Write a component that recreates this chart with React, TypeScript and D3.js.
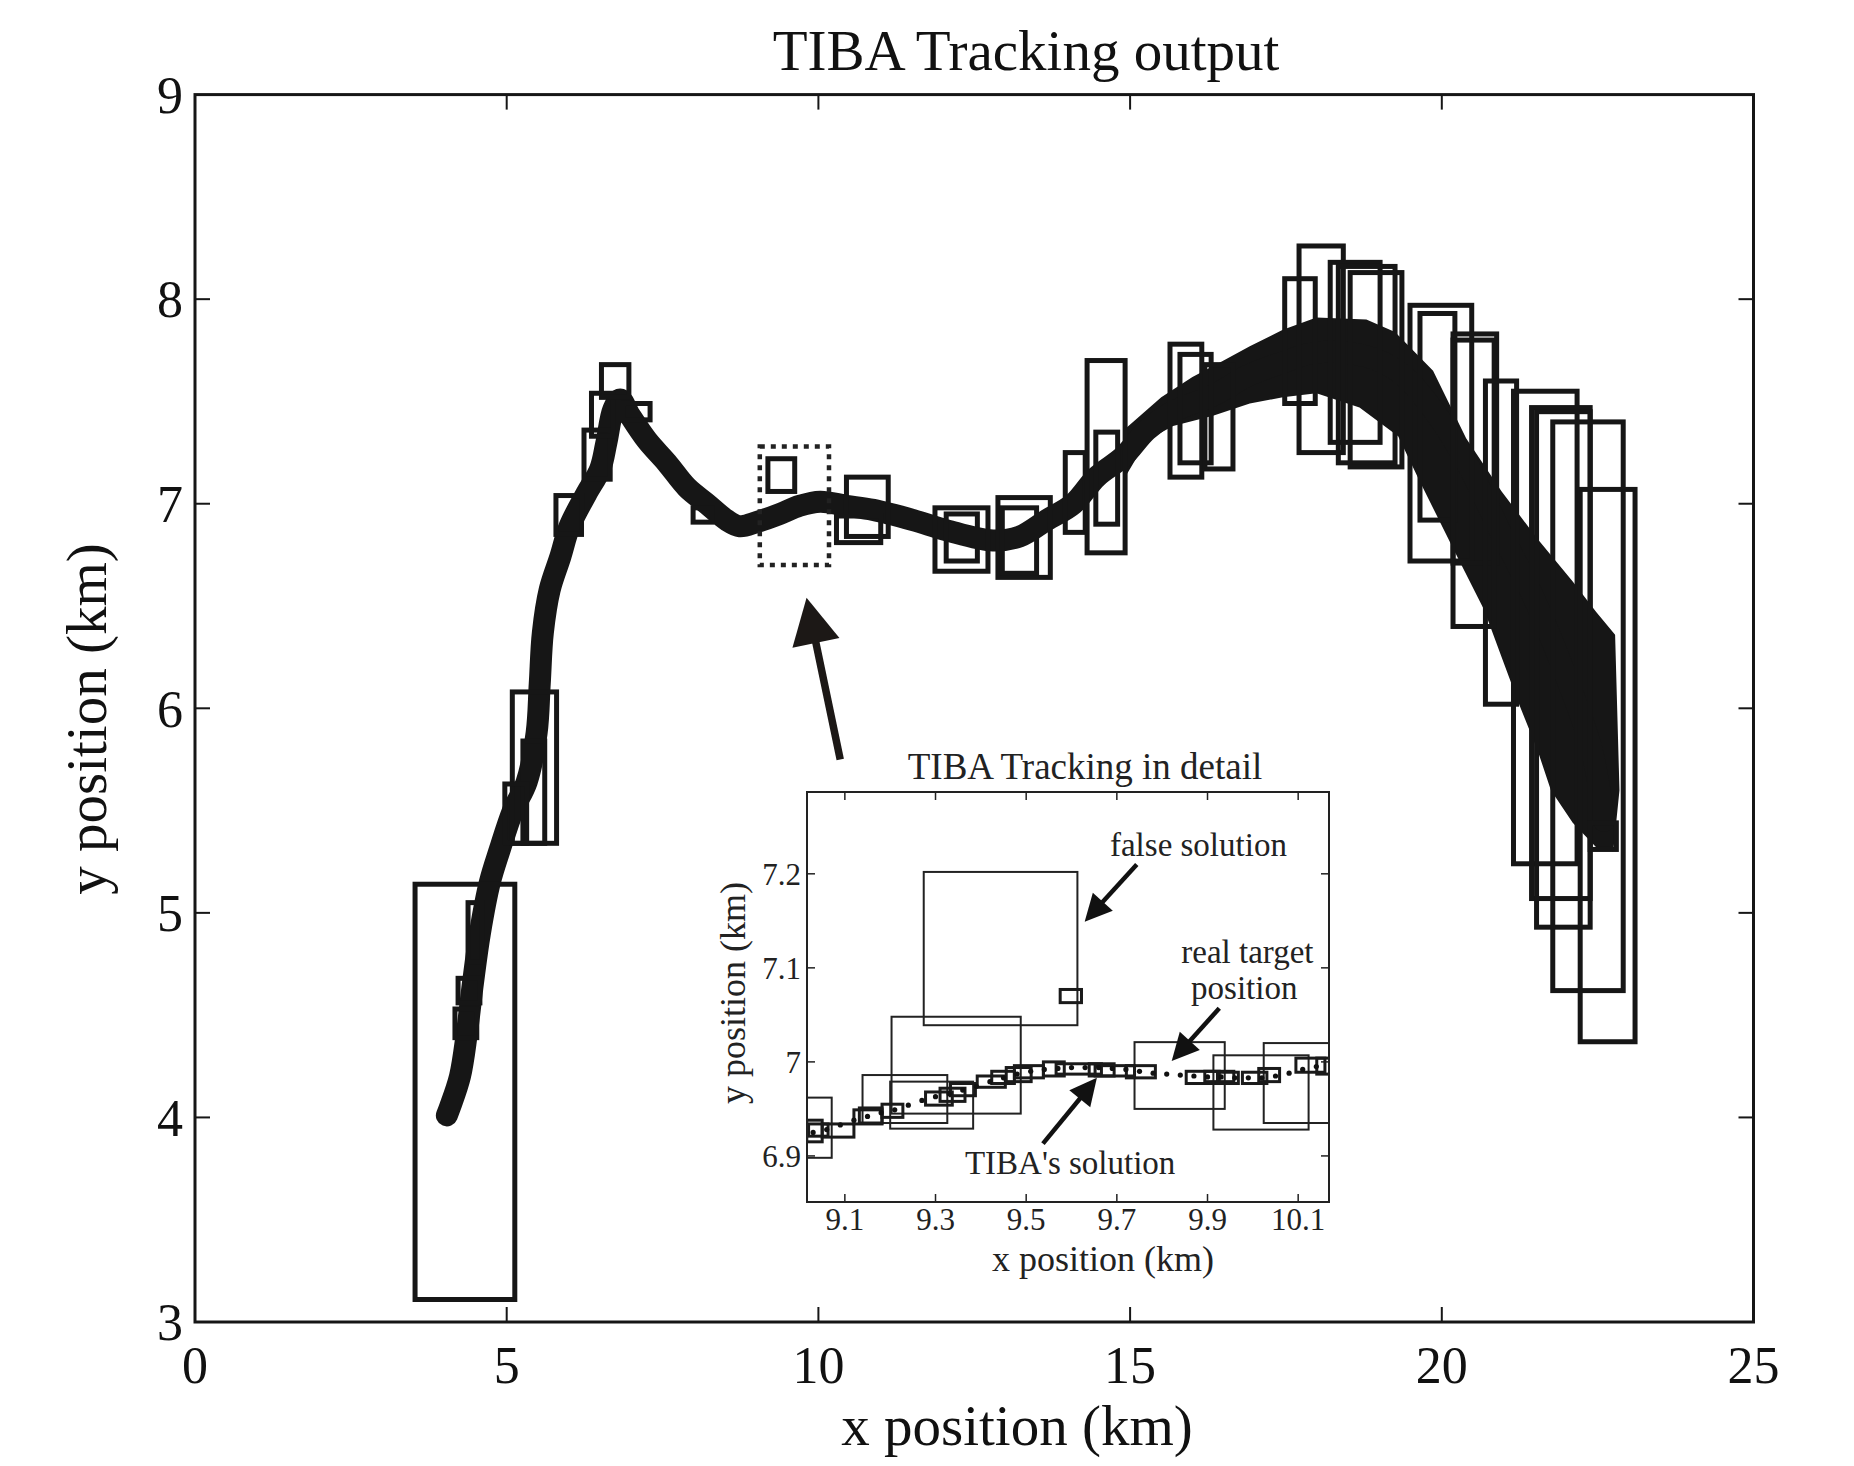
import React, { useRef, useEffect } from "react";
import * as d3 from "d3";

const W = 1854;
const H = 1466;
const FONT = "'Liberation Serif', 'Times New Roman', serif";

// ---- main plot ----
const xTicks = [0, 5, 10, 15, 20, 25];
const yTicks = [3, 4, 5, 6, 7, 8, 9];

// TIBA track, centre line [x km, y km]
const track: [number, number][] = [
  [4.04, 4.01], [4.09, 4.05], [4.25, 4.2], [4.36, 4.41], [4.46, 4.66], [4.57, 4.9],
  [4.73, 5.15], [4.89, 5.31], [5.1, 5.5], [5.32, 5.64], [5.48, 5.88], [5.53, 6.12],
  [5.58, 6.37], [5.69, 6.58], [5.86, 6.74], [6.01, 6.89], [6.28, 7.05], [6.5, 7.17],
  [6.6, 7.3], [6.71, 7.46], [6.82, 7.51], [6.98, 7.43], [7.25, 7.31], [7.57, 7.2],
  [7.89, 7.08], [8.21, 7.0], [8.53, 6.92], [8.74, 6.89], [9.01, 6.91], [9.38, 6.95],
  [9.7, 6.99], [10.03, 7.01], [10.45, 6.99], [10.88, 6.97], [11.52, 6.92], [12.06, 6.87],
  [12.8, 6.82], [13.23, 6.84], [13.66, 6.92], [14.09, 7.0], [14.46, 7.13], [14.89, 7.23],
  [15.27, 7.36], [15.69, 7.45], [16.33, 7.53], [16.92, 7.63], [17.45, 7.69], [17.99, 7.74],
  [18.79, 7.72], [19.33, 7.64], [19.86, 7.46], [20.4, 7.2], [20.93, 6.87], [21.46, 6.55],
  [22.0, 6.15], [22.4, 5.8], [22.6, 5.45],
];

// where the track spreads into a wide dark band
const bandUpper: [number, number][] = [
  [14.9, 7.36], [15.5, 7.52], [16.0, 7.62], [16.5, 7.7], [16.92, 7.77], [17.45, 7.85],
  [17.99, 7.91], [18.79, 7.9], [19.25, 7.84], [19.86, 7.65], [20.39, 7.32], [20.96, 7.06],
  [21.53, 6.83], [22.1, 6.62], [22.48, 6.47], [22.78, 6.36], [22.85, 5.6], [22.75, 5.3],
];
const bandLower: [number, number][] = [
  [14.9, 7.12], [15.27, 7.31], [15.69, 7.38], [16.33, 7.43], [16.92, 7.49], [17.45, 7.52],
  [17.99, 7.54], [18.68, 7.47], [19.3, 7.33], [19.63, 7.12], [20.2, 6.77], [20.68, 6.48],
  [20.96, 6.25], [21.24, 6.02], [21.53, 5.8], [21.75, 5.6], [22.1, 5.44], [22.48, 5.32],
];

// solution boxes [x0, x1, y0, y1]
const mainBoxes: number[][] = [
  [3.53, 5.13, 3.11, 5.14], [5.09, 5.8, 5.34, 6.08], [5.26, 5.61, 5.34, 5.84],
  [4.97, 5.32, 5.34, 5.63], [4.38, 4.6, 4.76, 5.05], [4.22, 4.57, 4.56, 4.68],
  [4.17, 4.52, 4.39, 4.53], [5.79, 6.2, 6.85, 7.04], [6.24, 6.66, 7.12, 7.36],
  [6.36, 6.71, 7.33, 7.54], [6.52, 6.96, 7.52, 7.68], [6.87, 7.3, 7.41, 7.49],
  [7.99, 8.29, 6.91, 6.98], [9.19, 9.62, 7.06, 7.22], [10.45, 11.12, 6.84, 7.13],
  [10.29, 11.0, 6.81, 6.94], [11.87, 12.72, 6.67, 6.98], [12.05, 12.55, 6.72, 6.95],
  [12.88, 13.72, 6.64, 7.03], [12.95, 13.5, 6.66, 6.98], [13.96, 14.28, 6.86, 7.25],
  [14.31, 14.92, 6.76, 7.7], [14.45, 14.8, 6.9, 7.35], [15.64, 16.15, 7.13, 7.78],
  [15.8, 16.3, 7.2, 7.73], [16.2, 16.65, 7.17, 7.68], [17.71, 18.42, 7.25, 8.26],
  [17.48, 17.97, 7.49, 8.1], [18.21, 19.01, 7.3, 8.18], [18.34, 19.25, 7.2, 8.16],
  [18.53, 19.36, 7.18, 8.13], [19.49, 20.48, 6.72, 7.97], [19.65, 20.21, 6.92, 7.93],
  [20.18, 20.88, 6.71, 7.83], [20.18, 20.84, 6.4, 7.8], [20.7, 21.2, 6.02, 7.6],
  [21.15, 22.17, 5.24, 7.55], [21.44, 22.38, 5.07, 7.47], [21.52, 22.38, 4.93, 7.45],
  [21.78, 22.91, 4.62, 7.4], [22.22, 23.1, 4.37, 7.07], [22.38, 22.8, 5.31, 5.44],
];
const zoomBox = [9.06, 10.17, 6.7, 7.28];
const mainArrow = { from: [10.35, 5.75], to: [9.81, 6.54] };

// ---- inset ----
const insetXTicks = [9.1, 9.3, 9.5, 9.7, 9.9, 10.1];
const insetYTicks = [6.9, 7.0, 7.1, 7.2];
const insetYTickLabels = ["6.9", "7", "7.1", "7.2"];

const insetBigBoxes: number[][] = [
  [9.274, 9.613, 7.039, 7.202], [9.203, 9.488, 6.945, 7.048], [9.139, 9.326, 6.935, 6.986],
  [9.2, 9.383, 6.929, 6.979], [9.016, 9.071, 6.898, 6.962], [9.739, 9.938, 6.95, 7.021],
  [9.913, 10.123, 6.928, 7.007], [10.024, 10.2, 6.935, 7.02],
];
const insetSmallBoxes: number[][] = [
  [9.575, 9.622, 7.063, 7.077], [9.016, 9.05, 6.915, 6.938], [9.02, 9.063, 6.921, 6.934],
  [9.05, 9.12, 6.92, 6.934], [9.12, 9.182, 6.934, 6.949], [9.132, 9.182, 6.935, 6.951],
  [9.182, 9.228, 6.941, 6.955], [9.278, 9.337, 6.954, 6.968], [9.31, 9.365, 6.958, 6.972],
  [9.333, 9.388, 6.964, 6.977], [9.392, 9.454, 6.973, 6.985], [9.424, 9.474, 6.977, 6.99],
  [9.456, 9.511, 6.979, 6.994], [9.474, 9.538, 6.983, 6.996], [9.538, 9.584, 6.985, 7.0],
  [9.566, 9.666, 6.987, 6.998], [9.639, 9.694, 6.985, 6.998], [9.652, 9.739, 6.985, 6.996],
  [9.721, 9.785, 6.983, 6.996], [9.853, 9.926, 6.977, 6.99], [9.894, 9.958, 6.979, 6.99],
  [9.922, 9.968, 6.977, 6.989], [9.977, 10.031, 6.977, 6.989], [10.013, 10.059, 6.979, 6.993],
  [10.095, 10.159, 6.989, 7.004], [10.141, 10.2, 6.987, 7.004],
];

// real target positions
const targetX = [
  9.03, 9.06, 9.09, 9.12, 9.15, 9.18, 9.21, 9.24, 9.27, 9.3, 9.33, 9.36, 9.39, 9.42, 9.45,
  9.48, 9.51, 9.54, 9.57, 9.6, 9.63, 9.66, 9.69, 9.72, 9.75, 9.78, 9.81, 9.84, 9.87, 9.9,
  9.93, 9.96, 9.99, 10.02, 10.05, 10.08, 10.11, 10.14,
];
const targetY = [
  6.925, 6.928, 6.933, 6.938, 6.942, 6.946, 6.949, 6.954, 6.959, 6.963, 6.966, 6.97, 6.974,
  6.979, 6.983, 6.987, 6.99, 6.992, 6.993, 6.994, 6.994, 6.994, 6.993, 6.992, 6.99, 6.988,
  6.987, 6.986, 6.985, 6.984, 6.984, 6.983, 6.983, 6.983, 6.985, 6.988, 6.992, 6.995,
];

const insetArrows = [
  { from: [9.744, 7.21], to: [9.629, 7.149] },
  { from: [9.926, 7.057], to: [9.821, 7.001] },
  { from: [9.537, 6.913], to: [9.656, 6.983] },
];
const insetNotes = [
  { text: "false solution", x: 9.88, y: 7.219 },
  { text: "real target", x: 9.988, y: 7.105 },
  { text: "position", x: 9.981, y: 7.067 },
  { text: "TIBA's solution", x: 9.597, y: 6.881 },
];

function drawArrow(g: any, x1: number, y1: number, x2: number, y2: number,
  headLen: number, headW: number, shaft: number, color: string) {
  const dx = x2 - x1, dy = y2 - y1;
  const len = Math.hypot(dx, dy);
  const ux = dx / len, uy = dy / len;
  const bx = x2 - ux * headLen, by = y2 - uy * headLen;
  g.append("line")
    .attr("x1", x1).attr("y1", y1).attr("x2", bx + ux * 2).attr("y2", by + uy * 2)
    .attr("stroke", color).attr("stroke-width", shaft);
  const px = -uy * headW / 2, py = ux * headW / 2;
  g.append("polygon")
    .attr("points", `${x2},${y2} ${bx + px},${by + py} ${bx - px},${by - py}`)
    .attr("fill", color);
}

export default function App() {
  const svgRef = useRef<SVGSVGElement>(null);

  useEffect(() => {
    const svg = d3.select(svgRef.current);
    svg.selectAll("*").remove();
    const ink = "#161616";

    const x = d3.scaleLinear().domain([0, 25]).range([195, 1753.5]);
    const y = d3.scaleLinear().domain([3, 9]).range([1322, 94.6]);

    svg.append("rect").attr("width", W).attr("height", H).attr("fill", "#fff");

    const plot = svg.append("g");

    // band
    const bandPts = bandUpper.concat(bandLower.slice().reverse());
    plot.append("path")
      .attr("d", d3.line<[number, number]>().x(d => x(d[0])).y(d => y(d[1]))(bandPts) + "Z")
      .attr("fill", ink);

    // track line
    plot.append("path")
      .attr("d", d3.line<[number, number]>().x(d => x(d[0])).y(d => y(d[1])).curve(d3.curveCatmullRom)(track))
      .attr("fill", "none").attr("stroke", ink).attr("stroke-width", 22)
      .attr("stroke-linecap", "round").attr("stroke-linejoin", "round");

    // boxes
    plot.selectAll("rect.box").data(mainBoxes).join("rect")
      .attr("class", "box")
      .attr("x", d => x(d[0])).attr("y", d => y(d[3]))
      .attr("width", d => x(d[1]) - x(d[0])).attr("height", d => y(d[2]) - y(d[3]))
      .attr("fill", "none").attr("stroke", ink).attr("stroke-width", 5);

    // dotted zoom box
    plot.append("rect")
      .attr("x", x(zoomBox[0])).attr("y", y(zoomBox[3]))
      .attr("width", x(zoomBox[1]) - x(zoomBox[0])).attr("height", y(zoomBox[2]) - y(zoomBox[3]))
      .attr("fill", "none").attr("stroke", "#222").attr("stroke-width", 4.5)
      .attr("stroke-dasharray", "5 6");

    drawArrow(plot, x(mainArrow.from[0]), y(mainArrow.from[1]), x(mainArrow.to[0]), y(mainArrow.to[1]),
      46, 48, 7.5, "#1c1816");

    // main frame + ticks
    const axes = svg.append("g").attr("stroke", ink);
    axes.append("rect")
      .attr("x", x(0)).attr("y", y(9)).attr("width", x(25) - x(0)).attr("height", y(3) - y(9))
      .attr("fill", "none").attr("stroke-width", 3);
    const tl = 15;
    xTicks.slice(1, -1).forEach(t => {
      axes.append("line").attr("x1", x(t)).attr("x2", x(t)).attr("y1", y(3)).attr("y2", y(3) - tl).attr("stroke-width", 2);
      axes.append("line").attr("x1", x(t)).attr("x2", x(t)).attr("y1", y(9)).attr("y2", y(9) + tl).attr("stroke-width", 2);
    });
    yTicks.slice(1, -1).forEach(t => {
      axes.append("line").attr("x1", x(0)).attr("x2", x(0) + tl).attr("y1", y(t)).attr("y2", y(t)).attr("stroke-width", 2);
      axes.append("line").attr("x1", x(25)).attr("x2", x(25) - tl).attr("y1", y(t)).attr("y2", y(t)).attr("stroke-width", 2);
    });

    const labels = svg.append("g").attr("font-family", FONT).attr("fill", "#111");
    xTicks.forEach(t => {
      labels.append("text").attr("x", x(t)).attr("y", 1383).attr("text-anchor", "middle")
        .attr("font-size", 52).text(String(t));
    });
    yTicks.forEach(t => {
      labels.append("text").attr("x", 183).attr("y", y(t)).attr("dy", "0.35em").attr("text-anchor", "end")
        .attr("font-size", 52).text(String(t));
    });
    labels.append("text").attr("x", 1026).attr("y", 70).attr("text-anchor", "middle")
      .attr("font-size", 57).text("TIBA Tracking output");
    labels.append("text").attr("x", 1017).attr("y", 1445).attr("text-anchor", "middle")
      .attr("font-size", 57).text("x position (km)");
    labels.append("text").attr("transform", `translate(106,719) rotate(-90)`).attr("text-anchor", "middle")
      .attr("font-size", 57).text("y position (km)");

    // ---- inset ----
    const ix = d3.scaleLinear().domain([9.0165, 10.168]).range([807, 1329]);
    const iy = d3.scaleLinear().domain([6.851, 7.287]).range([1202, 792]);
    const inset = svg.append("g");
    inset.append("rect").attr("x", 807).attr("y", 792).attr("width", 522).attr("height", 410).attr("fill", "#fff");
    svg.append("defs").append("clipPath").attr("id", "insetClip")
      .append("rect").attr("x", 807).attr("y", 792).attr("width", 522).attr("height", 410);
    const ip = inset.append("g").attr("clip-path", "url(#insetClip)");

    ip.selectAll("rect.big").data(insetBigBoxes).join("rect")
      .attr("class", "big")
      .attr("x", d => ix(d[0])).attr("y", d => iy(d[3]))
      .attr("width", d => ix(d[1]) - ix(d[0])).attr("height", d => iy(d[2]) - iy(d[3]))
      .attr("fill", "none").attr("stroke", "#222").attr("stroke-width", 2);
    ip.selectAll("rect.small").data(insetSmallBoxes).join("rect")
      .attr("class", "small")
      .attr("x", d => ix(d[0])).attr("y", d => iy(d[3]))
      .attr("width", d => ix(d[1]) - ix(d[0])).attr("height", d => iy(d[2]) - iy(d[3]))
      .attr("fill", "none").attr("stroke", "#1a1a1a").attr("stroke-width", 3);
    ip.selectAll("circle.t").data(targetX).join("circle")
      .attr("class", "t")
      .attr("cx", d => ix(d)).attr("cy", (d, i) => iy(targetY[i])).attr("r", 2.6)
      .attr("fill", "#111");

    inset.append("rect").attr("x", 807).attr("y", 792).attr("width", 522).attr("height", 410)
      .attr("fill", "none").attr("stroke", "#222").attr("stroke-width", 2);
    const itl = 8;
    insetXTicks.forEach(t => {
      inset.append("line").attr("x1", ix(t)).attr("x2", ix(t)).attr("y1", 1202).attr("y2", 1202 - itl).attr("stroke", "#222").attr("stroke-width", 1.5);
      inset.append("line").attr("x1", ix(t)).attr("x2", ix(t)).attr("y1", 792).attr("y2", 792 + itl).attr("stroke", "#222").attr("stroke-width", 1.5);
      inset.append("text").attr("x", ix(t)).attr("y", 1230).attr("text-anchor", "middle")
        .attr("font-family", FONT).attr("font-size", 31).attr("fill", "#222").text(String(t));
    });
    insetYTicks.forEach((t, i) => {
      inset.append("line").attr("x1", 807).attr("x2", 807 + itl).attr("y1", iy(t)).attr("y2", iy(t)).attr("stroke", "#222").attr("stroke-width", 1.5);
      inset.append("line").attr("x1", 1329).attr("x2", 1329 - itl).attr("y1", iy(t)).attr("y2", iy(t)).attr("stroke", "#222").attr("stroke-width", 1.5);
      inset.append("text").attr("x", 801).attr("y", iy(t)).attr("dy", "0.35em").attr("text-anchor", "end")
        .attr("font-family", FONT).attr("font-size", 31).attr("fill", "#222").text(insetYTickLabels[i]);
    });
    inset.append("text").attr("x", 1085).attr("y", 779).attr("text-anchor", "middle")
      .attr("font-family", FONT).attr("font-size", 37).attr("fill", "#222").text("TIBA Tracking in detail");
    inset.append("text").attr("x", 1103).attr("y", 1271).attr("text-anchor", "middle")
      .attr("font-family", FONT).attr("font-size", 36).attr("fill", "#222").text("x position (km)");
    inset.append("text").attr("transform", `translate(745,993) rotate(-90)`).attr("text-anchor", "middle")
      .attr("font-family", FONT).attr("font-size", 36).attr("fill", "#222").text("y position (km)");

    insetNotes.forEach(n => {
      inset.append("text").attr("x", ix(n.x)).attr("y", iy(n.y)).attr("text-anchor", "middle")
        .attr("font-family", FONT).attr("font-size", 33).attr("fill", "#222").text(n.text);
    });
    insetArrows.forEach(a => {
      drawArrow(inset, ix(a.from[0]), iy(a.from[1]), ix(a.to[0]), iy(a.to[1]), 27, 27, 4.5, "#111");
    });
  }, []);

  return (
    <div style={{ position: "absolute", left: 0, top: 0 }}>
      <svg ref={svgRef} width={W} height={H} style={{ display: "block" }} />
    </div>
  );
}
